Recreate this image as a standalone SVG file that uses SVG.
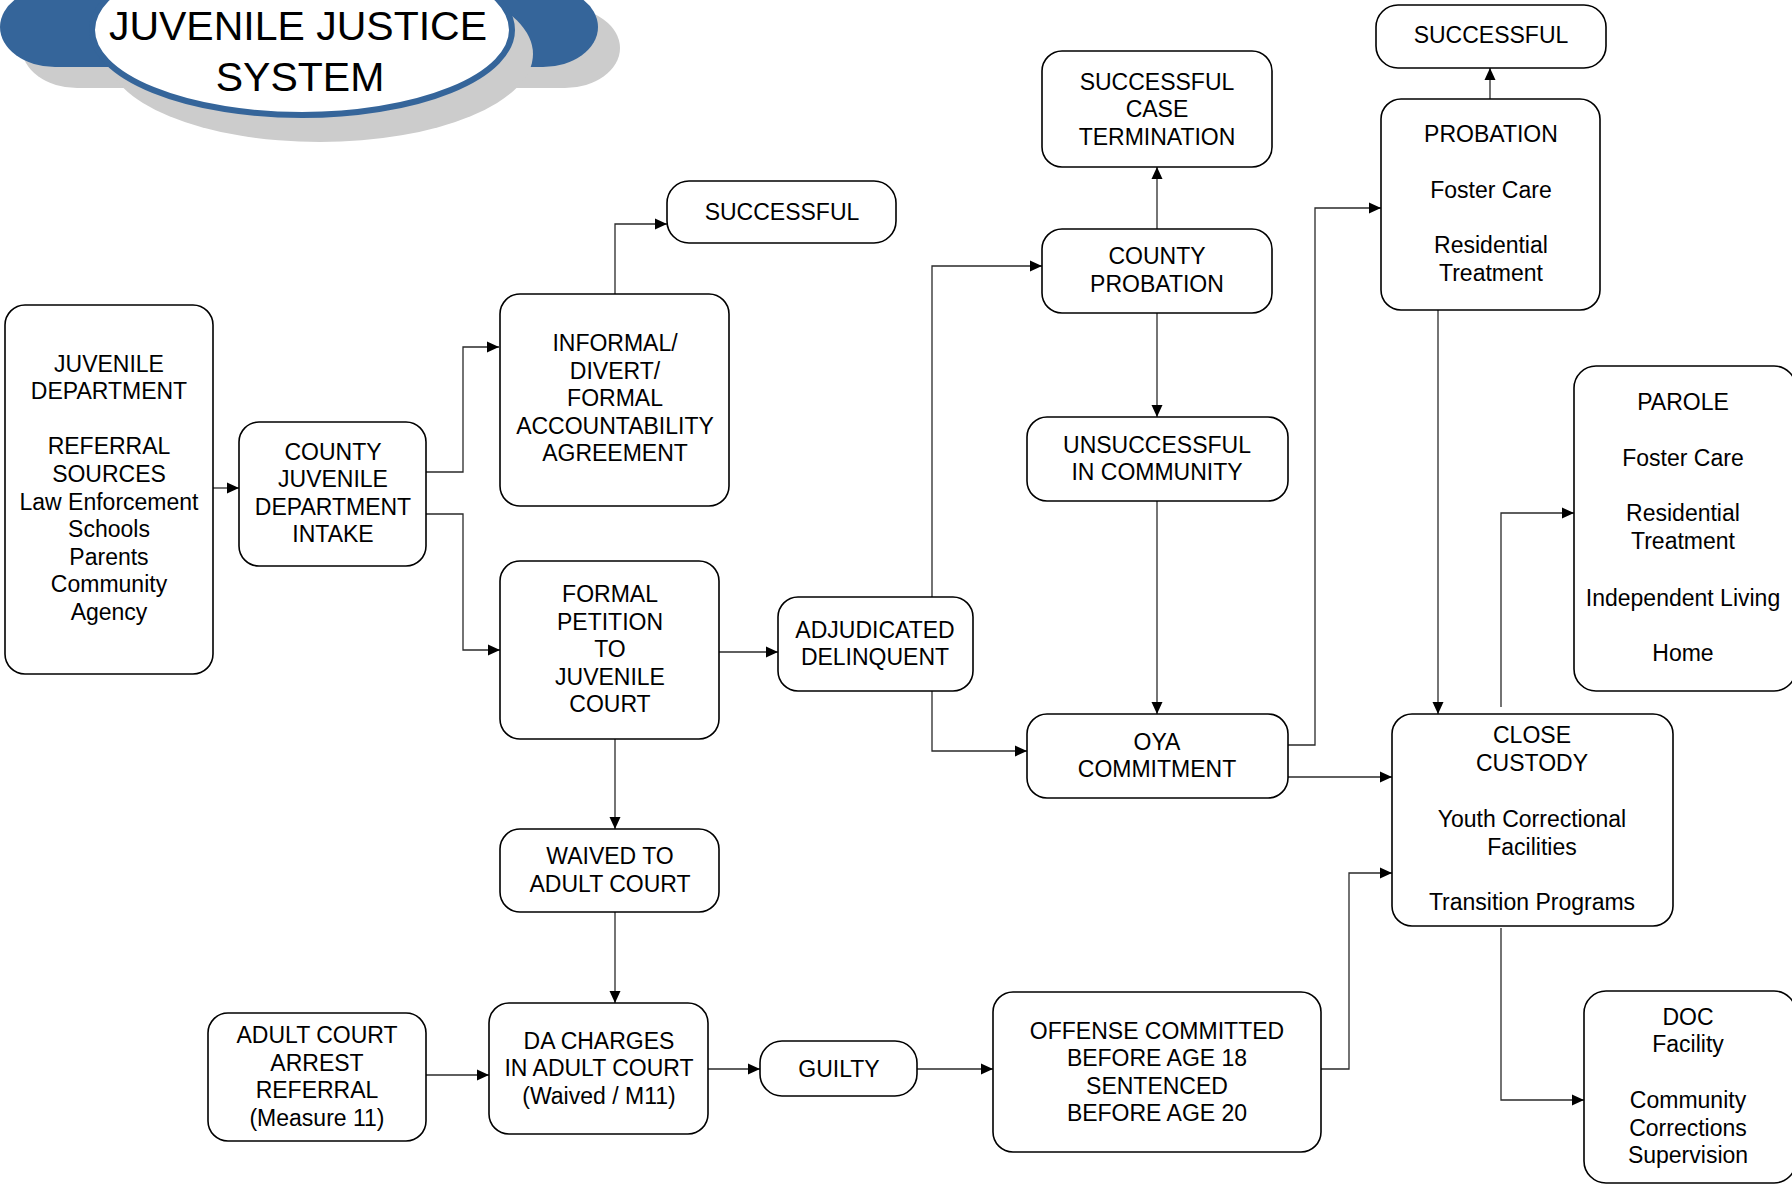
<svg xmlns="http://www.w3.org/2000/svg" width="1792" height="1185" viewBox="0 0 1792 1185">
<style>
.box{fill:#fff;stroke:#000;stroke-width:1.6}
.t{font-family:"Liberation Sans",Arial,sans-serif;font-size:23px;fill:#000;text-anchor:middle}
.title{font-family:"Liberation Sans",Arial,sans-serif;font-size:41px;fill:#000;text-anchor:middle}
.c{fill:none;stroke:#2a2a2a;stroke-width:1.3}
</style>
<defs>
<marker id="ah" markerUnits="userSpaceOnUse" markerWidth="12" markerHeight="12" refX="12" refY="6" orient="auto" viewBox="0 0 12 12">
<path d="M0,0.5 L12,6 L0,11.5 z" fill="#000"/>
</marker>
</defs>
<rect width="1792" height="1185" fill="#fff"/>

<g id="title">
<rect x="22" y="8" width="598" height="80" rx="55" ry="40" fill="#cccccc"/>
<rect x="0" y="-13" width="598" height="80" rx="55" ry="40" fill="#35659a"/>
<ellipse cx="320" cy="54" rx="213" ry="88" fill="#cccccc"/>
<ellipse cx="302" cy="30" rx="210" ry="85" fill="#fff" stroke="#35659a" stroke-width="6"/>
<text class="title" x="298" y="40">JUVENILE JUSTICE</text>
<text class="title" x="300" y="91">SYSTEM</text>
</g>

<g id="connectors">
<path class="c" marker-end="url(#ah)" d="M213,488 H239"/>
<path class="c" marker-end="url(#ah)" d="M426,472 H463 V347 H499"/>
<path class="c" marker-end="url(#ah)" d="M426,514 H463 V650 H500"/>
<path class="c" marker-end="url(#ah)" d="M615,294 V224 H667"/>
<path class="c" marker-end="url(#ah)" d="M719,652 H778"/>
<path class="c" marker-end="url(#ah)" d="M615,739 V829"/>
<path class="c" marker-end="url(#ah)" d="M615,912 V1003"/>
<path class="c" marker-end="url(#ah)" d="M426,1075 H489"/>
<path class="c" marker-end="url(#ah)" d="M708,1069 H760"/>
<path class="c" marker-end="url(#ah)" d="M917,1069 H993"/>
<path class="c" marker-end="url(#ah)" d="M932,597 V266 H1042"/>
<path class="c" marker-end="url(#ah)" d="M932,691 V751 H1027"/>
<path class="c" marker-end="url(#ah)" d="M1157,229 V167"/>
<path class="c" marker-end="url(#ah)" d="M1157,313 V417"/>
<path class="c" marker-end="url(#ah)" d="M1157,501 V714"/>
<path class="c" marker-end="url(#ah)" d="M1288,745 H1315 V208 H1381"/>
<path class="c" marker-end="url(#ah)" d="M1288,777 H1392"/>
<path class="c" marker-end="url(#ah)" d="M1490,99 V68"/>
<path class="c" marker-end="url(#ah)" d="M1438,310 V714"/>
<path class="c" marker-end="url(#ah)" d="M1501,707 V513 H1574"/>
<path class="c" marker-end="url(#ah)" d="M1501,928 V1100 H1584"/>
<path class="c" marker-end="url(#ah)" d="M1321,1069 H1349 V873 H1392"/>
</g>

<g id="juvenile-department">
<rect class="box" x="5" y="305" width="208" height="369" rx="20"/>
<text class="t" x="109" y="371.5">JUVENILE</text>
<text class="t" x="109" y="399">DEPARTMENT</text>
<text class="t" x="109" y="454">REFERRAL</text>
<text class="t" x="109" y="482">SOURCES</text>
<text class="t" x="109" y="509.5">Law Enforcement</text>
<text class="t" x="109" y="537">Schools</text>
<text class="t" x="109" y="564.5">Parents</text>
<text class="t" x="109" y="592">Community</text>
<text class="t" x="109" y="620">Agency</text>
</g>

<g id="county-intake">
<rect class="box" x="239" y="422" width="187" height="144" rx="20"/>
<text class="t" x="333" y="459.5">COUNTY</text>
<text class="t" x="333" y="487">JUVENILE</text>
<text class="t" x="333" y="514.5">DEPARTMENT</text>
<text class="t" x="333" y="542">INTAKE</text>
</g>

<g id="informal">
<rect class="box" x="500" y="294" width="229" height="212" rx="20"/>
<text class="t" x="615" y="351">INFORMAL/</text>
<text class="t" x="615" y="378.5">DIVERT/</text>
<text class="t" x="615" y="406">FORMAL</text>
<text class="t" x="615" y="433.5">ACCOUNTABILITY</text>
<text class="t" x="615" y="461">AGREEMENT</text>
</g>

<g id="successful-1">
<rect class="box" x="667" y="181" width="229" height="62" rx="22"/>
<text class="t" x="782" y="219.5">SUCCESSFUL</text>
</g>

<g id="formal-petition">
<rect class="box" x="500" y="561" width="219" height="178" rx="20"/>
<text class="t" x="610" y="602">FORMAL</text>
<text class="t" x="610" y="629.5">PETITION</text>
<text class="t" x="610" y="657">TO</text>
<text class="t" x="610" y="684.5">JUVENILE</text>
<text class="t" x="610" y="712">COURT</text>
</g>

<g id="adjudicated">
<rect class="box" x="778" y="597" width="195" height="94" rx="20"/>
<text class="t" x="875" y="637.5">ADJUDICATED</text>
<text class="t" x="875" y="665">DELINQUENT</text>
</g>

<g id="waived">
<rect class="box" x="500" y="829" width="219" height="83" rx="20"/>
<text class="t" x="610" y="864">WAIVED TO</text>
<text class="t" x="610" y="891.5">ADULT COURT</text>
</g>

<g id="adult-court-referral">
<rect class="box" x="208" y="1013" width="218" height="128" rx="20"/>
<text class="t" x="317" y="1043">ADULT COURT</text>
<text class="t" x="317" y="1070.5">ARREST</text>
<text class="t" x="317" y="1098">REFERRAL</text>
<text class="t" x="317" y="1125.5">(Measure 11)</text>
</g>

<g id="da-charges">
<rect class="box" x="489" y="1003" width="219" height="131" rx="20"/>
<text class="t" x="599" y="1048.5">DA CHARGES</text>
<text class="t" x="599" y="1076">IN ADULT COURT</text>
<text class="t" x="599" y="1103.5">(Waived / M11)</text>
</g>

<g id="guilty">
<rect class="box" x="760" y="1041" width="157" height="55" rx="22"/>
<text class="t" x="839" y="1077">GUILTY</text>
</g>

<g id="offense">
<rect class="box" x="993" y="992" width="328" height="160" rx="20"/>
<text class="t" x="1157" y="1038.5">OFFENSE COMMITTED</text>
<text class="t" x="1157" y="1066">BEFORE AGE 18</text>
<text class="t" x="1157" y="1093.5">SENTENCED</text>
<text class="t" x="1157" y="1121">BEFORE AGE 20</text>
</g>

<g id="successful-case-termination">
<rect class="box" x="1042" y="51" width="230" height="116" rx="20"/>
<text class="t" x="1157" y="89.5">SUCCESSFUL</text>
<text class="t" x="1157" y="117">CASE</text>
<text class="t" x="1157" y="144.5">TERMINATION</text>
</g>

<g id="county-probation">
<rect class="box" x="1042" y="229" width="230" height="84" rx="20"/>
<text class="t" x="1157" y="264">COUNTY</text>
<text class="t" x="1157" y="291.5">PROBATION</text>
</g>

<g id="unsuccessful">
<rect class="box" x="1027" y="417" width="261" height="84" rx="20"/>
<text class="t" x="1157" y="452.5">UNSUCCESSFUL</text>
<text class="t" x="1157" y="480">IN COMMUNITY</text>
</g>

<g id="oya-commitment">
<rect class="box" x="1027" y="714" width="261" height="84" rx="20"/>
<text class="t" x="1157" y="749.5">OYA</text>
<text class="t" x="1157" y="777">COMMITMENT</text>
</g>

<g id="successful-2">
<rect class="box" x="1376" y="5" width="230" height="63" rx="22"/>
<text class="t" x="1491" y="43">SUCCESSFUL</text>
</g>

<g id="probation">
<rect class="box" x="1381" y="99" width="219" height="211" rx="20"/>
<text class="t" x="1491" y="142">PROBATION</text>
<text class="t" x="1491" y="198">Foster Care</text>
<text class="t" x="1491" y="253">Residential</text>
<text class="t" x="1491" y="281">Treatment</text>
</g>

<g id="parole">
<rect class="box" x="1574" y="366" width="222" height="325" rx="22"/>
<text class="t" x="1683" y="410">PAROLE</text>
<text class="t" x="1683" y="466">Foster Care</text>
<text class="t" x="1683" y="521">Residential</text>
<text class="t" x="1683" y="549">Treatment</text>
<text class="t" x="1683" y="606">Independent Living</text>
<text class="t" x="1683" y="661">Home</text>
</g>

<g id="close-custody">
<rect class="box" x="1392" y="714" width="281" height="212" rx="20"/>
<text class="t" x="1532" y="743">CLOSE</text>
<text class="t" x="1532" y="771">CUSTODY</text>
<text class="t" x="1532" y="827">Youth Correctional</text>
<text class="t" x="1532" y="855">Facilities</text>
<text class="t" x="1532" y="910">Transition Programs</text>
</g>

<g id="doc">
<rect class="box" x="1584" y="991" width="212" height="192" rx="22"/>
<text class="t" x="1688" y="1025">DOC</text>
<text class="t" x="1688" y="1052">Facility</text>
<text class="t" x="1688" y="1108">Community</text>
<text class="t" x="1688" y="1136">Corrections</text>
<text class="t" x="1688" y="1163">Supervision</text>
</g>
</svg>
